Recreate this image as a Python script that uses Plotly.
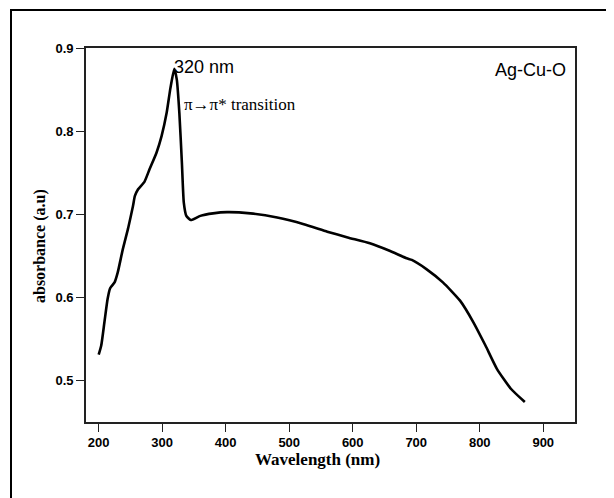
import plotly.graph_objects as go

wavelength = [200, 204, 209, 214, 218, 225, 230, 238, 246, 254, 257, 262, 272, 280, 291, 299,
              307, 313, 319, 323, 327, 331, 334, 338, 345, 360, 380, 402, 439, 481, 523, 560,
              592, 627, 658, 685, 693, 716, 742, 769, 790, 809, 827, 849, 871]
absorbance = [0.531, 0.542, 0.570, 0.598, 0.611, 0.618, 0.630, 0.658, 0.682, 0.710, 0.722, 0.730,
              0.739, 0.754, 0.774, 0.794, 0.822, 0.852, 0.875, 0.862, 0.822, 0.762, 0.714, 0.698,
              0.693, 0.698, 0.701, 0.7025, 0.701, 0.696, 0.688, 0.679, 0.672, 0.665, 0.656, 0.647,
              0.645, 0.634, 0.618, 0.596, 0.570, 0.542, 0.514, 0.490, 0.474]
x_ticks = [200, 300, 400, 500, 600, 700, 800, 900]
y_ticks = [0.5, 0.6, 0.7, 0.8, 0.9]

OFF = 8  # default page body margin
W, H = 614 - OFF, 498 - OFF
# plot area in page pixels
L, R, T, B = 86, 575, 48, 422

def px(x):
    return (x - L) / (R - L)

def py(y):
    return (B - y) / (B - T)

fig = go.Figure()
fig.add_trace(go.Scatter(x=wavelength, y=absorbance, mode="lines",
                         line=dict(color="black", width=2.6, shape="spline", smoothing=0.5),
                         showlegend=False, hoverinfo="skip"))

axis_common = dict(showgrid=False, zeroline=False, showline=True, mirror=True,
                   linecolor="#222", linewidth=1.6, ticks="outside", ticklen=8,
                   tickwidth=1.4, tickcolor="#222",
                   tickfont=dict(family="Liberation Sans, Arial", size=13, color="black", weight="bold"))

fig.update_xaxes(range=[180, 950], tickvals=x_ticks, ticktext=[str(v) for v in x_ticks], **axis_common)
fig.update_yaxes(range=[0.45, 0.9], tickvals=y_ticks, ticktext=[f"{v:.1f}" for v in y_ticks], **axis_common)

anns = [
    dict(x=320, y=0.877, xref="x", yref="y", text="320 nm", xanchor="left", yanchor="middle",
         showarrow=False, font=dict(family="Liberation Sans, Arial", size=18, color="black"), borderpad=0, xshift=-2),
    dict(x=333, y=0.832, xref="x", yref="y", text="π→π* transition", xanchor="left", yanchor="middle",
         showarrow=False, font=dict(family="Liberation Serif, Times New Roman", size=17, color="black"), borderpad=0),
    dict(x=937, y=0.874, xref="x", yref="y", text="Ag-Cu-O", xanchor="right", yanchor="middle",
         showarrow=False, font=dict(family="Liberation Sans, Arial", size=18, color="black"), borderpad=0),
    dict(x=px(317), y=py(459), xref="paper", yref="paper", text="<b>Wavelength (nm)</b>",
         xanchor="center", yanchor="middle", showarrow=False, borderpad=0,
         font=dict(family="Liberation Serif, Times New Roman", size=17, color="black")),
    dict(x=px(40), y=py(246), xref="paper", yref="paper", text="<b>absorbance (a.u)</b>",
         xanchor="center", yanchor="middle", showarrow=False, textangle=-90,
         font=dict(family="Liberation Serif, Times New Roman", size=16, color="black")),
]

shapes = [
    dict(type="rect", xref="paper", yref="paper", x0=px(11), x1=px(611), y0=py(520), y1=py(10),
         line=dict(color="black", width=2), fillcolor="rgba(0,0,0,0)", layer="below"),
]

fig.update_layout(width=W, height=H,
                  margin=dict(l=L - OFF, r=(614 - R), t=T - OFF, b=(498 - B)),
                  paper_bgcolor="white", plot_bgcolor="white",
                  annotations=anns, shapes=shapes)

fig.write_html("out.html")
